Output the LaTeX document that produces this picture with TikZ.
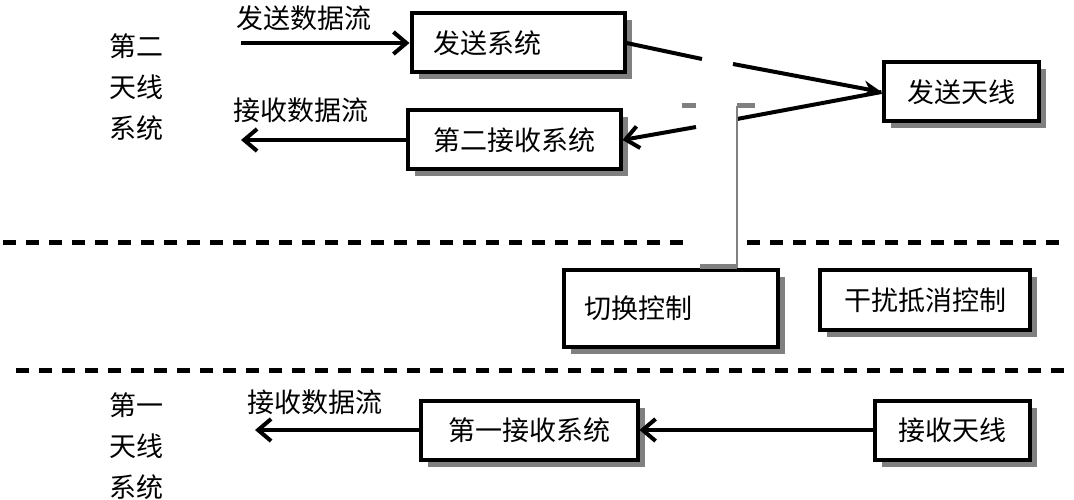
\documentclass[tikz,border=0pt]{standalone}
\usepackage{fontspec}
\newfontfamily\cjk{Noto Sans CJK SC}
\usetikzlibrary{arrows.meta,positioning,shadows}

\begin{document}
\begin{tikzpicture}[x=1pt,y=1pt,line width=4pt,
font=\cjk\fontsize{27}{41}\selectfont]
\tikzstyle{blk}=[draw,line width=4pt,fill=white,inner sep=0pt,minimum height=59pt,
  drop shadow={shadow xshift=7pt,shadow yshift=-7pt,fill=black!50,opacity=1}]
\tikzstyle{flow}=[-{Straight Barb[length=13pt,width=22pt]}]
\tikzstyle{feed}=[-{Stealth[length=18pt,width=16pt]}]
\tikzstyle{sepline}=[dash pattern=on 13pt off 10pt,line width=5pt]
\tikzstyle{ghost}=[black!50]

\useasboundingbox (0,0) rectangle (1074,-500);

% second antenna system
\node[blk,minimum width=213pt,text width=169pt,align=left] (tx)  at (518,-43)  {发送系统};
\node[blk,minimum width=213pt]                             (rx2) at (514,-140) {第二接收系统};
\node[blk,minimum width=155pt]                             (txant) at (961,-92) {发送天线};
\node[align=center] (sys2) at (136,-87) {第二\\天线\\系统};
\node (txlbl)  at (304,-18)  {发送数据流};
\node (rx2lbl) at (301,-110) {接收数据流};
\coordinate (txin)   at (241,-43);
\coordinate (rx2out) at (241,-140);

% control
\node[blk,minimum width=214pt,minimum height=77pt,text width=174pt,align=left] (sw) at (671,-308) {切换控制};
\node[blk,minimum width=210pt,minimum height=60pt] (ic) at (925,-300) {干扰抵消控制};

% first antenna system
\node[blk,minimum width=217pt] (rx1)   at (529,-430) {第一接收系统};
\node[blk,minimum width=155pt] (rxant) at (952,-430) {接收天线};
\node[align=center] (sys1) at (136,-446) {第一\\天线\\系统};
\node (rx1lbl) at (315,-402) {接收数据流};
\coordinate (rx1out) at (255,-430);

% switch
\coordinate (swa) at (702,-59);
\coordinate (swb) at (733,-64);
\coordinate (swc) at (737,-119);
\coordinate (swd) at (696,-127);
\coordinate (pole) at (737,-106);

\path[flow] (txin) edge (tx.west)
            (rx2.west) edge (rx2out)
            (swd) edge (rx2.east)
            (rxant) edge (rx1)
            (rx1.west) edge (rx1out);
\draw (tx.east) -- (swa);
\draw[feed] (swb) -- (txant.west);
\draw (txant.west) -- (swc);

\draw[ghost,line width=2pt] (pole) -- (sw.north -| pole);
\draw[ghost,line width=5pt] (682,-106) -- (696,-106)
             (737,-106) -- (755,-106)
             (700,-266) -- (737,-266);

% separators
\draw[sepline] (3,-242) -- (692,-242);
\draw[sepline] (747,-242) -- (1068,-242);
\draw[sepline] (16,-370) -- (1068,-370);
\end{tikzpicture}
\end{document}
